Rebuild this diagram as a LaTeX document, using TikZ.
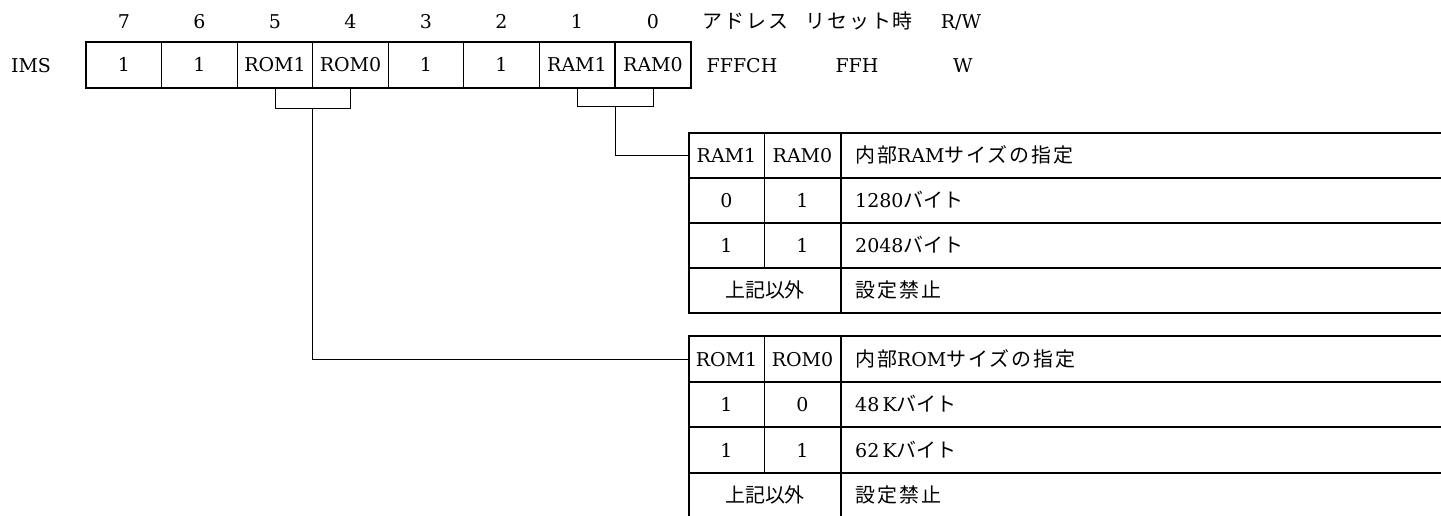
\documentclass[tikz,border=0pt]{standalone}
\usepackage{fontspec}
\setmainfont{DejaVu Serif}
\newfontfamily\jp[Scale=1.05]{Noto Sans CJK JP}
\newfontfamily\jpw[Scale=1.05,LetterSpace=10]{Noto Sans CJK JP}
\usetikzlibrary{calc}
\begin{document}
\begin{tikzpicture}[x=1pt,y=-1pt,
  txt/.style={inner sep=0pt, text height=14pt, text depth=0pt, font=\fontsize{19}{23}\selectfont},
  cell/.style={txt, draw, line width=0.8pt, minimum width=75.6pt, minimum height=46pt},
  tcell/.style={txt, minimum width=75pt, minimum height=45pt},
  outer/.style={line width=1.8pt},
  rowline/.style={line width=1.4pt},
  thinline/.style={line width=0.8pt},
  conn/.style={line width=0.8pt}]
\useasboundingbox (0,0) rectangle (1441,516);
\fill[white] (0,0) rectangle (1441,516);
% register
\node[txt] (ims) at (31,66) {IMS};
\foreach \n/\x/\v in {7/124/1,6/199.5/1,5/275/ROM1,4/350.5/ROM0,3/426/1,2/501.5/1,1/577/RAM1,0/653/RAM0}{
  \node[cell] (b\n) at (\x,65) {\v};
  \node[txt] (n\n) at (\x,22) {\n};
}
\draw[outer] (b7.north west) rectangle (b0.south east);
% header labels
\node[txt,anchor=west] (addr) at (702,22) {\jpw アドレス};
\node[txt,anchor=west] (reset) at (805,22) {\jpw リセット時};
\node[txt] (rw) at (961,22) {R/W};
\node[txt] (addrv) at (742,66) {FFFCH};
\node[txt] (resetv) at (857,66) {FFH};
\node[txt] (rwv) at (963,66) {W};
% RAM table
\node[tcell] (ramh1) at (726.5,155.5) {RAM1};
\node[tcell] (ramh0) at (802.5,155.5) {RAM0};
\node[txt,anchor=west] (ramhd) at (855,155.5) {{\jpw 内部}RAM{\jpw サイズの指定}};
\node[tcell] (rama1) at (726.5,200.5) {0};
\node[tcell] (rama0) at (802.5,200.5) {1};
\node[txt,anchor=west] (ramad) at (855,200.5) {1280{\jp バイト}};
\node[tcell] (ramb1) at (726.5,245.5) {1};
\node[tcell] (ramb0) at (802.5,245.5) {1};
\node[txt,anchor=west] (rambd) at (855,245.5) {2048{\jp バイト}};
\node[txt] (ramc) at (765,290.5) {\jp 上記以外};
\node[txt,anchor=west] (ramcd) at (855,290.5) {\jpw 設定禁止};
\draw[outer] (1445,133) -- (689,133) -- (689,313) -- (1445,313);
\draw[rowline] (689,178) -- (1445,178);
\draw[rowline] (689,223) -- (1445,223);
\draw[rowline] (689,268) -- (1445,268);
\draw[thinline] (764,133) -- (764,268);
\draw[outer] (841,133) -- (841,313);
% ROM table
\node[tcell] (romh1) at (726.5,359) {ROM1};
\node[tcell] (romh0) at (802.5,359) {ROM0};
\node[txt,anchor=west] (romhd) at (855,359) {{\jpw 内部}ROM{\jpw サイズの指定}};
\node[tcell] (roma1) at (726.5,404.5) {1};
\node[tcell] (roma0) at (802.5,404.5) {0};
\node[txt,anchor=west] (romad) at (855,404.5) {48\,K{\jp バイト}};
\node[tcell] (romb1) at (726.5,450) {1};
\node[tcell] (romb0) at (802.5,450) {1};
\node[txt,anchor=west] (rombd) at (855,450) {62\,K{\jp バイト}};
\node[txt] (romc) at (765,495.5) {\jp 上記以外};
\node[txt,anchor=west] (romcd) at (855,495.5) {\jpw 設定禁止};
\draw[outer] (1445,336) -- (689,336) -- (689,520);
\draw[outer] (689,518) -- (1445,518);
\draw[rowline] (689,382) -- (1445,382);
\draw[rowline] (689,427) -- (1445,427);
\draw[rowline] (689,473) -- (1445,473);
\draw[thinline] (764,336) -- (764,473);
\draw[outer] (841,336) -- (841,520);
% connectors
\draw[conn] (b5.south) -- ++(0,20) -| (b4.south);
\coordinate (romm) at ($(b5.south)!0.5!(b4.south)+(0,20)$);
\draw[conn] (romm) |- (romh1.west);
\draw[conn] (b1.south) -- ++(0,18) -| (b0.south);
\coordinate (ramm) at ($(b1.south)!0.5!(b0.south)+(0,18)$);
\draw[conn] (ramm) |- (ramh1.west);
\end{tikzpicture}
\end{document}
